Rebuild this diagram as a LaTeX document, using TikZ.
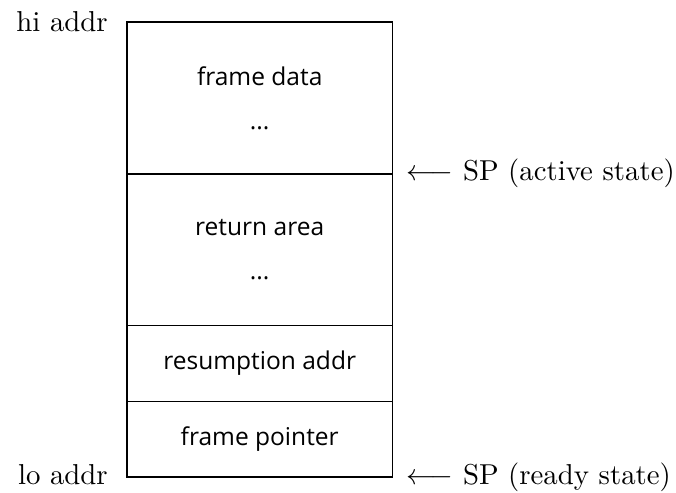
\documentclass[tikz,border=0pt]{standalone}
\usepackage{amsmath,amssymb}
\usepackage{fontspec}
\newfontfamily\cellfont{Open Sans}
\usepackage{tikz}
\usetikzlibrary{positioning}

\begin{document}
\begin{tikzpicture}[
  cell/.style={draw, line width=0.6pt, align=center, minimum width=3.5cm, inner sep=0pt, outer sep=0pt,
    font=\cellfont\fontsize{9.2}{11}\selectfont},
  tall/.style={cell, minimum height=2cm},
  short/.style={cell, minimum height=1cm},
  addr/.style={inner sep=0pt, font=\fontsize{10.8}{13}\selectfont}
]
  \useasboundingbox (-47.6pt,8.25pt) rectangle (205.9pt,-176.25pt);

  % Stack frame cells
  \node[tall, anchor=north west] (fd) at (0,0) {frame data\\[5.5pt]...};
  \node[tall, below=0pt of fd] (ra) {return area\\[5.5pt]...};
  \node[short, below=0pt of ra] (rsa) {resumption addr};
  \node[short, below=0pt of rsa] (fp) {frame pointer};

  % Address ends
  \node[addr, left=7pt of fd.north west] (hi) {hi addr};
  \node[addr, left=7pt of fp.south west, yshift=1pt] (lo) {lo addr};

  % Stack pointer
  \node[addr, right=5pt of ra.north east] (spa) {$\longleftarrow$ SP (active state)};
  \node[addr, right=5pt of fp.south east] (spr) {$\longleftarrow$ SP (ready state)};
\end{tikzpicture}
\end{document}
